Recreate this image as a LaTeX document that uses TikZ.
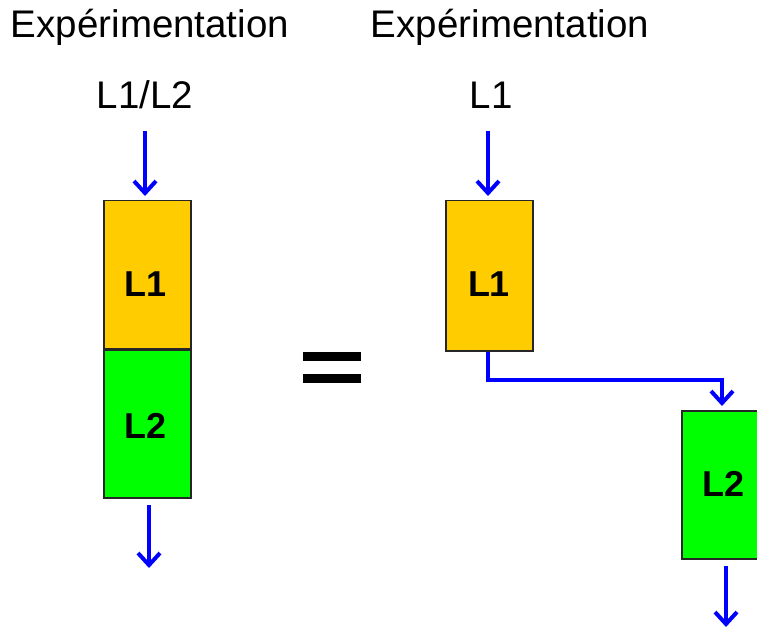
\documentclass[tikz,border=0pt]{standalone}
\usepackage{fontspec}
\setmainfont{Liberation Sans}
\usetikzlibrary{arrows.meta}
\definecolor{boxyellow}{HTML}{FFCC00}
\definecolor{boxgreen}{HTML}{00FF00}
\definecolor{arrblue}{HTML}{0000FF}
\begin{document}
\begin{tikzpicture}[x=1pt,y=-1pt,
  title/.style={inner sep=0pt,anchor=base,font=\fontsize{38.5}{40}\selectfont},
  stage/.style={draw=black!85,line width=1.5pt,minimum width=87pt,minimum height=148pt,inner sep=0pt,anchor=north west},
  stagelabel/.style={inner sep=0pt,anchor=base,font=\fontsize{36}{38}\selectfont\bfseries},
  flow/.style={draw=arrblue,line width=4pt,-{Straight Barb[length=12pt,width=22pt,line width=4pt]}}]
\useasboundingbox (0,0) rectangle (757,628);
% titles
\node[title] (t1) at (150,38) {Expérimentation};
\node[title] (t2) at (510,38) {Expérimentation};
\node[title] (in1) at (145,109) {L1/L2};
\node[title] (in2) at (491,109) {L1};
% left boxes
\node[stage,fill=boxyellow] (a1) at (103,200) {};
\node[stage,fill=boxgreen] (a2) at (103,349) {};
\node[stagelabel] (la1) at (146,296) {L1};
\node[stagelabel] (la2) at (146,438) {L2};
% right boxes
\node[stage,fill=boxyellow,minimum height=150pt] (b1) at (445,200) {};
\node[stage,fill=boxgreen] (b2) at (681,410) {};
\node[stagelabel] (lb1) at (489,296) {L1};
\node[stagelabel] (lb2) at (723,496) {L2};
% equals sign
\fill (303,352) rectangle (361,361);
\fill (303,374) rectangle (361,383);
% arrows
\coordinate (s1) at (145,131);
\coordinate (e1) at (145,196);
\draw[flow] (s1) -- (e1);
\coordinate (s2) at (149,505);
\coordinate (e2) at (149,568);
\draw[flow] (s2) -- (e2);
\coordinate (s3) at (488,131);
\coordinate (e3) at (488,196);
\draw[flow] (s3) -- (e3);
\coordinate (k1) at (488,380);
\coordinate (k2) at (722,380);
\coordinate (e4) at (722,406);
\draw[flow] (b1.south -| k1) -- (k1) -- (k2) -- (e4);
\coordinate (s5) at (726,566);
\coordinate (e5) at (726,627);
\draw[flow] (s5) -- (e5);
\end{tikzpicture}
\end{document}
